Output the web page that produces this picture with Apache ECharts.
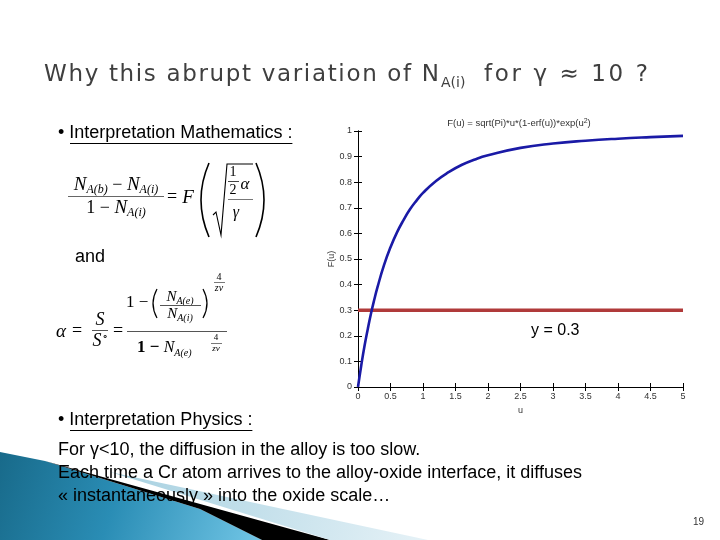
<!DOCTYPE html>
<html><head><meta charset="utf-8">
<script src="https://cdn.jsdelivr.net/npm/echarts@6/dist/echarts.min.js"></script>
<style>html,body{margin:0;padding:0;background:#fff}#c{width:720px;height:540px}</style>
</head><body><div id="c"></div>
<script>
// ---- data ----
const uValues = [0,0.05,0.1,0.15,0.2,0.25,0.3,0.4,0.5,0.6,0.7,0.8,0.9,1.0,1.2,1.4,1.6,1.8,2.0,2.5,3.0,3.5,4.0,4.5,5.0];
const fValues = [0,0.084,0.16,0.226,0.287,0.341,0.39,0.476,0.546,0.604,0.652,0.694,0.728,0.758,0.805,0.84,0.868,0.889,0.905,0.934,0.951,0.962,0.97,0.976,0.981];
const refLineX = [0, 5];
const refLineY = [0.3, 0.3];
const refLabel = 'y = 0.3';
const plotTitle = 'F(u) = sqrt(Pi)*u*(1-erf(u))*exp(u';
const xTickInterval = 0.5;
const yTickInterval = 0.1;

const slideTitle = ['Why this abrupt variation of N', 'A(i)', 'for γ ≈ 10 ?'];
const bodyLines = [
  'For γ<10, the diffusion in the alloy is too slow.',
  'Each time a Cr atom arrives to the alloy-oxide interface, it diffuses',
  '« instantaneously » into the oxide scale…'
];

// ---- helpers ----
const cv = document.createElement('canvas').getContext('2d');
function fontStr(p){ return (p.it?'italic ':'') + (p.b?'bold ':'') + p.s + 'px "' + (p.f||'Liberation Serif') + '"'; }
function measure(p){ cv.font = fontStr(p); return cv.measureText(p.t).width; }
const G = [];
function txt(x, y, t, p, color){
  G.push({type:'text', x: x, y: y, z: 10, style:{
    text: t, fill: color || '#000', fontSize: p.s, fontFamily: p.f || 'Liberation Serif',
    fontStyle: p.it ? 'italic' : 'normal', fontWeight: p.b ? 'bold':'normal',
    align:'left', verticalAlign:'middle', textAlign:'left', textVerticalAlign:'middle'}});
}
function run(x, y, parts, align, color){
  let w = 0; parts.forEach(p => { p.w = measure(p); w += p.w; });
  let cx = align === 'center' ? x - w/2 : x;
  parts.forEach(p => { txt(cx, y + (p.dy||0), p.t, p, color || p.c); cx += p.w; });
  return w;
}
function spaced(x0, x1, y, t, p, color){
  const chars = Array.from(t);
  const ws = chars.map(c => measure(Object.assign({}, p, {t:c})));
  const nat = ws.reduce((a,b)=>a+b,0);
  const gap = (x1 - x0 - nat) / (chars.length - 1);
  let cx = x0;
  chars.forEach((c,i) => { if (c !== ' ') txt(cx, y, c, p, color); cx += ws[i] + gap; });
}
function line(x1,y1,x2,y2,c,w){ G.push({type:'line', z:10, shape:{x1,y1,x2,y2}, style:{stroke:c||'#000', lineWidth:w||1}}); }
function curve(x1,y1,x2,y2,cx,cy,w){ G.push({type:'bezierCurve', z:10, shape:{x1,y1,x2,y2,cpx1:cx,cpy1:cy}, style:{stroke:'#000', lineWidth:w||1.3, fill:null}}); }

// ---- decoration ----
G.push({type:'polygon', z:1, shape:{points:[[0,452],[45,461],[200,509],[262,540],[0,540]]},
  style:{fill:new echarts.graphic.LinearGradient(0,0,1,1,[{offset:0,color:'#186a8a'},{offset:0.45,color:'#2a8db5'},{offset:1,color:'#72c6e6'}])}});
G.push({type:'polygon', z:1, shape:{points:[[45,461],[330,540],[262,540],[200,509]]}, style:{fill:'#000'}});
G.push({type:'polygon', z:1, shape:{points:[[110,472],[428,540],[330,540]]},
  style:{fill:new echarts.graphic.LinearGradient(0,0,1,1,[{offset:0,color:'#a6d0e0'},{offset:1,color:'#e6f2f7'}])}});

// ---- slide title ----
const SANS = 'DejaVu Sans';
spaced(44, 439, 75, slideTitle[0], {s:23, f:SANS}, '#3f3f3f');
run(441, 83, [{t:slideTitle[1], s:14, f:SANS}], 'left', '#3f3f3f');
spaced(484, 648, 75, slideTitle[2], {s:23, f:SANS}, '#3f3f3f');

// ---- headings / body ----
const AR = 'Liberation Sans';
const w1 = run(58, 133, [{t:'• Interpretation Mathematics :', s:18, f:AR}], 'left');
line(70, 143.5, 58 + w1, 143.5, '#000', 1);
run(75, 257, [{t:'and', s:18, f:AR}], 'left');
const w2 = run(58, 420, [{t:'• Interpretation Physics :', s:18, f:AR}], 'left');
line(70, 430.5, 58 + w2, 430.5, '#000', 1);
bodyLines.forEach((t,i) => run(58, 450 + i*23, [{t, s:18, f:AR}], 'left'));
run(693, 522, [{t:'19', s:10, f:AR}], 'left', '#333');

// ---- formula 1 ----
run(116, 185, [{t:'N',s:19,it:true},{t:'A(b)',s:12,it:true,dy:5},{t:' − ',s:18},{t:'N',s:19,it:true},{t:'A(i)',s:12,it:true,dy:5}], 'center');
line(68, 196.5, 164, 196.5, '#666', 1);
run(116, 208, [{t:'1 − ',s:18},{t:'N',s:19,it:true},{t:'A(i)',s:12,it:true,dy:5}], 'center');
run(172, 197, [{t:'=',s:18}], 'center');
run(188, 198, [{t:'F',s:19,it:true}], 'center');
curve(209,163,209,237,193,200,1.6);
curve(256,163,256,237,272,200,1.6);
G.push({type:'polyline', z:10, shape:{points:[[213,215],[216,212],[221,235],[227,164],[253,164]]}, style:{stroke:'#000', lineWidth:1.1, fill:null}});
run(233, 172, [{t:'1',s:14}], 'center');
line(228, 181.5, 239, 181.5, '#444', 1);
run(233, 190, [{t:'2',s:14}], 'center');
run(245, 185, [{t:'α',s:17,it:true}], 'center');
line(228, 199.5, 253, 199.5, '#777', 1);
run(236, 213, [{t:'γ',s:16,it:true}], 'center');

// ---- formula 2 ----
run(61, 332, [{t:'α',s:19,it:true}], 'center');
run(77, 331, [{t:'=',s:18}], 'center');
run(100, 320, [{t:'S',s:18,it:true}], 'center');
line(92, 330.5, 108, 330.5, '#555', 1);
run(100, 341, [{t:'S',s:18,it:true},{t:'∘',s:10,dy:-5}], 'center');
run(118, 331, [{t:'=',s:18}], 'center');
run(126, 303, [{t:'1 − ',s:17}], 'left');
curve(157,289,157,318,149,303.5,1.2);
run(180, 297, [{t:'N',s:15,it:true},{t:'A(e)',s:10,it:true,dy:4}], 'center');
line(160, 305.5, 201, 305.5, '#555', 1);
run(180, 314, [{t:'N',s:15,it:true},{t:'A(i)',s:10,it:true,dy:4}], 'center');
curve(203,289,203,318,211,303.5,1.2);
run(219, 277, [{t:'4',s:10}], 'center');
line(214, 282.5, 225, 282.5, '#555', 0.8);
run(219, 288, [{t:'zv',s:10,it:true}], 'center');
line(127, 331.5, 227, 331.5, '#555', 1);
run(137, 348, [{t:'1 − ',s:17,b:true},{t:'N',s:16,it:true},{t:'A(e)',s:10,it:true,dy:5}], 'left');
run(216, 338, [{t:'4',s:9}], 'center');
line(211, 343.5, 222, 343.5, '#555', 0.8);
run(216, 349, [{t:'zv',s:9,it:true}], 'center');

// ---- chart ----
const chart = echarts.init(document.getElementById('c'), null, {renderer:'canvas'});
const lab = {fontSize:9, color:'#333', fontFamily:'Liberation Sans'};
const tick = {inside:true, length:4, lineStyle:{color:'#000', width:1}};
const axLine = {show:true, lineStyle:{color:'#000', width:1}};
chart.setOption({
  animation:false,
  backgroundColor:'#fff',
  title:{
    text:'{a|' + plotTitle + '}{s|2}{a|)}',
    left:514, top:113, textAlign:'center',
    textStyle:{fontWeight:'normal', rich:{a:{fontSize:9.5, fontWeight:'normal', color:'#333', fontFamily:'Liberation Sans'}, s:{fontSize:7, fontWeight:'normal', color:'#333', fontFamily:'Liberation Sans', verticalAlign:'top', padding:[0,0,4,0]}}}
  },
  grid:{left:358, top:131, width:325, height:256, containLabel:false, show:false},
  xAxis:[
    {type:'value', min:0, max:5, interval:xTickInterval, position:'bottom',
     name:'u', nameLocation:'middle', nameGap:19, nameTextStyle:lab,
     axisLine:axLine, axisTick:tick, axisLabel:Object.assign({margin:5}, lab), splitLine:{show:false}},
    {type:'value', min:0, max:5, interval:xTickInterval, position:'top',
     axisLine:axLine, axisTick:tick, axisLabel:{show:false}, splitLine:{show:false}}
  ],
  yAxis:[
    {type:'value', min:0, max:1, interval:yTickInterval, position:'left',
     name:'F(u)', nameLocation:'middle', nameGap:17, nameRotate:90, nameTextStyle:lab,
     axisLine:axLine, axisTick:tick, axisLabel:Object.assign({margin:6}, lab), splitLine:{show:false}},
    {type:'value', min:0, max:1, interval:yTickInterval, position:'right',
     axisLine:axLine, axisTick:tick, axisLabel:{show:false}, splitLine:{show:false}}
  ],
  series:[
    {type:'line', name:'F', data:uValues.map((u,i)=>[u,fValues[i]]), smooth:true, showSymbol:false,
     lineStyle:{color:'#1a1aa6', width:2.6}, z:3},
    {type:'line', name:'ref', data:refLineX.map((x,i)=>[x,refLineY[i]]), showSymbol:false,
     lineStyle:{color:'#b03a3a', width:3.5}, z:2}
  ],
  graphic:{elements:G.concat([
    {type:'text', x:531, y:331, z:10, style:{text:refLabel, fontSize:16, fontFamily:'Liberation Sans', fill:'#000', verticalAlign:'middle'}}
  ])}
});
</script></body></html>
